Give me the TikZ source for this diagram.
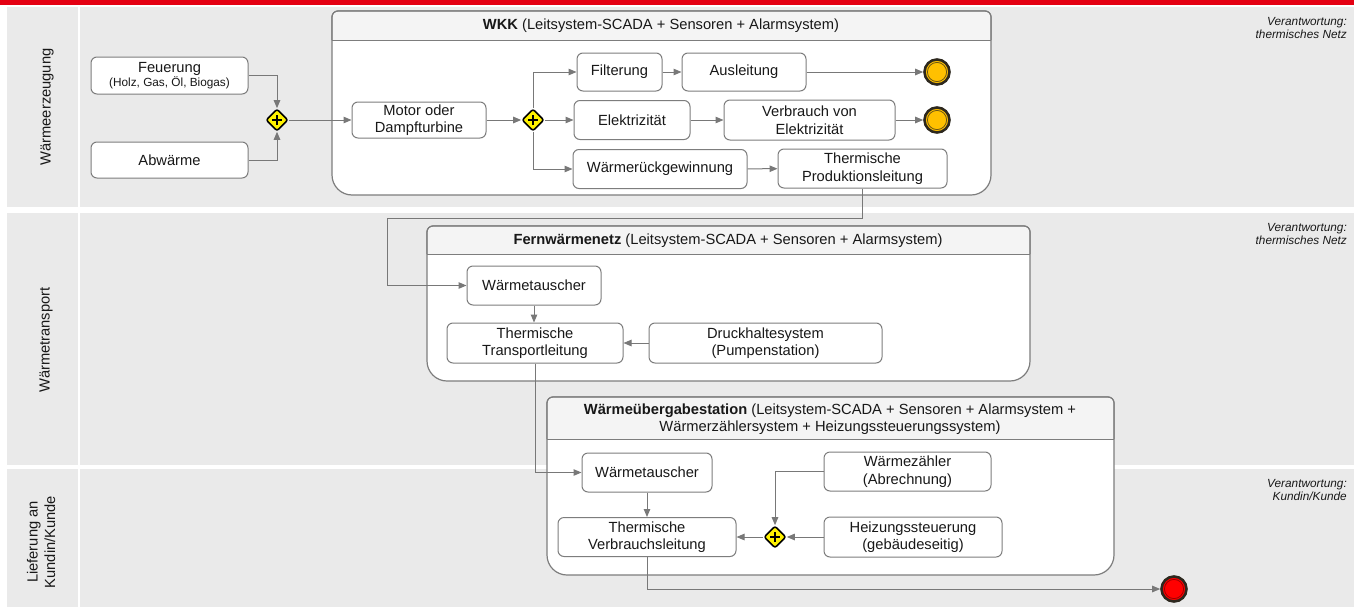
\documentclass[tikz,border=0pt]{standalone}
\usepackage{fontspec}
\setmainfont{Liberation Sans}
\usetikzlibrary{shapes.geometric,arrows.meta}

\definecolor{lanegray}{RGB}{234,234,234}
\definecolor{barred}{RGB}{228,0,18}
\definecolor{boxline}{RGB}{125,125,125}
\definecolor{flowgray}{RGB}{120,120,120}
\definecolor{headgray}{RGB}{244,244,244}
\definecolor{txt}{RGB}{24,24,24}
\definecolor{amber}{RGB}{255,192,0}
\definecolor{ringdark}{RGB}{45,40,30}

\newcommand{\mainsize}{\fontsize{14.7}{17.5}\selectfont}
\newcommand{\smallsize}{\fontsize{11.8}{13}\selectfont}

\tikzset{
  task/.style={draw=boxline, line width=1pt, fill=white, rounded corners=6pt,
    align=center, text=txt, font=\mainsize, inner sep=0pt},
  gate/.style={diamond, aspect=1, minimum size=22pt, inner sep=0pt,
    rounded corners=2pt, fill=yellow, draw=black, line width=1.6pt,
    path picture={\draw[line width=1.7pt, black, sharp corners]
      ([xshift=-5pt]path picture bounding box.center) -- ([xshift=5pt]path picture bounding box.center)
      ([yshift=-5pt]path picture bounding box.center) -- ([yshift=5pt]path picture bounding box.center);}},
  endev/.style={circle, minimum size=25pt, inner sep=0pt, draw=ringdark, line width=2.6pt},
  flow/.style={draw=flowgray, line width=1pt, -{Triangle[length=8pt,width=6.5pt]}, fill=none},
  lane/.style={fill=lanegray},
  container/.style={draw=boxline, line width=1.2pt, fill=white},
  headtext/.style={text=txt, font=\mainsize, align=center, inner sep=0pt},
  lanelabel/.style={text=txt, font=\mainsize, align=center, rotate=90, inner sep=0pt},
  resp/.style={text=txt, font=\smallsize\itshape, align=right, inner sep=0pt, anchor=north east}
}

\begin{document}
\begin{tikzpicture}[x=1pt, y=-1pt]
\useasboundingbox (0,0) rectangle (1354,608);
\fill[white] (0,0) rectangle (1354,608);

% top bar
\fill[barred] (0,0) rectangle (1354,4.5);

% lanes with label column
\fill[lane] (7,7) rectangle (1354,207);
\fill[lane] (7,213) rectangle (1354,465);
\fill[lane] (7,469) rectangle (1354,607);
\fill[white] (78,7) rectangle (80,607);

\node[lanelabel] (l1) at (47,107) {Wärmeerzeugung};
\node[lanelabel] (l2) at (46,340) {Wärmetransport};
\node[lanelabel] (l3) at (41,542) {Lieferung an\\Kundin/Kunde};

\node[resp] (r1) at (1347,17) {Verantwortung:\\thermisches Netz};
\node[resp] (r2) at (1347,223) {Verantwortung:\\thermisches Netz};
\node[resp] (r3) at (1347,479) {Verantwortung:\\Kundin/Kunde};

% sub-process containers
% WKK
\path[container] (332,40) [rounded corners=6pt] -- (332,11) -- (991,11) -- (991,40)
  [rounded corners=20pt] -- (991,195) -- (332,195) -- cycle;
\fill[headgray] (332.6,40) [rounded corners=5.5pt] -- (332.6,11.6) -- (990.4,11.6) [sharp corners] -- (990.4,40) -- cycle;
\draw[boxline, line width=1pt] (332,40) -- (991,40);
\path[draw=boxline, line width=1.2pt] (332,40) [rounded corners=6pt] -- (332,11) -- (991,11) -- (991,40);
\node[headtext] (hwkk) at (661,26) {\textbf{WKK} (Leitsystem-SCADA + Sensoren + Alarmsystem)};

% Fernwaermenetz
\path[container] (427,254) [rounded corners=6pt] -- (427,226) -- (1030,226) -- (1030,254)
  [rounded corners=20pt] -- (1030,381) -- (427,381) -- cycle;
\fill[headgray] (427.6,254) [rounded corners=5.5pt] -- (427.6,226.6) -- (1029.4,226.6) [sharp corners] -- (1029.4,254) -- cycle;
\draw[boxline, line width=1pt] (427,254) -- (1030,254);
\path[draw=boxline, line width=1.2pt] (427,254) [rounded corners=6pt] -- (427,226) -- (1030,226) -- (1030,254);
\node[headtext] (hfern) at (728,241) {\textbf{Fernwärmenetz} (Leitsystem-SCADA + Sensoren + Alarmsystem)};

% Waermeuebergabestation
\path[container] (547,439) [rounded corners=6pt] -- (547,397) -- (1114,397) -- (1114,439)
  [rounded corners=20pt] -- (1114,575) -- (547,575) -- cycle;
\fill[headgray] (547.6,439) [rounded corners=5.5pt] -- (547.6,397.6) -- (1113.4,397.6) [sharp corners] -- (1113.4,439) -- cycle;
\draw[boxline, line width=1pt] (547,439) -- (1114,439);
\path[draw=boxline, line width=1.2pt] (547,439) [rounded corners=6pt] -- (547,397) -- (1114,397) -- (1114,439);
\node[headtext] (hwue) at (830,419) {\textbf{Wärmeübergabestation} (Leitsystem-SCADA + Sensoren + Alarmsystem +\\Wärmerzählersystem + Heizungssteuerungssystem)};

% lane 1 tasks
\node[task, minimum width=157pt, minimum height=37pt] (feuer) at (169.5,75.5)
  {Feuerung\\[-3pt]{\smallsize (Holz, Gas, Öl, Biogas)}};
\node[task, minimum width=157pt, minimum height=36pt] (abw) at (169.5,160) {Abwärme};
\node[gate] (g1) at (277,120) {};
\node[task, minimum width=134pt, minimum height=36pt] (motor) at (419,120) {Motor oder\\Dampfturbine};
\node[gate] (g2) at (533,120) {};
\node[task, minimum width=85pt, minimum height=38pt] (filt) at (619.5,72) {Filterung};
\node[task, minimum width=124pt, minimum height=38pt] (ausl) at (744,72) {Ausleitung};
\node[task, minimum width=116pt, minimum height=39pt] (elek) at (632,120) {Elektrizität};
\node[task, minimum width=171pt, minimum height=40pt] (verb) at (809.5,120) {Verbrauch von\\Elektrizität};
\node[task, minimum width=174pt, minimum height=39pt] (wrg) at (660,169) {Wärmerückgewinnung};
\node[task, minimum width=169pt, minimum height=39pt] (tpl) at (862.5,168.5) {Thermische\\Produktionsleitung};
\node[endev, fill=amber] (e1) at (937,72) {};
\node[endev, fill=amber] (e2) at (937,120) {};
\draw[ringdark!70!amber, line width=0.8pt] (e1.center) circle (9.6pt) (e2.center) circle (9.6pt);

% lane 2 tasks
\node[task, minimum width=134pt, minimum height=39pt] (wt2) at (534,285.5) {Wärmetauscher};
\node[task, minimum width=176pt, minimum height=40pt] (ttl) at (535,343) {Thermische\\Transportleitung};
\node[task, minimum width=233pt, minimum height=40pt] (druck) at (765.5,343) {Druckhaltesystem\\(Pumpenstation)};
\coordinate (bend) at (387,218);

% lane 3 tasks
\node[task, minimum width=130pt, minimum height=39pt] (wt3) at (647,472.5) {Wärmetauscher};
\node[task, minimum width=178pt, minimum height=39pt] (tvl) at (647,537) {Thermische\\Verbrauchsleitung};
\node[task, minimum width=167pt, minimum height=39pt] (wz) at (907.5,471.5) {Wärmezähler\\(Abrechnung)};
\node[task, minimum width=178pt, minimum height=40pt] (hz) at (913,537) {Heizungssteuerung\\(gebäudeseitig)};
\node[gate] (g3) at (775,537) {};
\node[endev, fill=red] (e3) at (1174,589) {};
\draw[red!60!black, line width=0.8pt] (e3.center) circle (9.6pt);

% sequence flows
\draw[flow] (feuer.east) -| (g1.north);
\draw[flow] (abw.east) -| (g1.south);
\draw[flow] (g1) -- (motor);
\draw[flow] (motor) -- (g2);
\draw[flow] (g2.north) |- (filt.west);
\draw[flow] (g2) -- (elek);
\draw[flow] (g2.south) |- (wrg.west);
\draw[flow] (filt) -- (ausl);
\draw[flow] (ausl) -- (e1);
\draw[flow] (elek) -- (verb);
\draw[flow] (verb) -- (e2);
\draw[flow] (wrg) -- (tpl);
\draw[flow] (tpl.south) |- (bend) |- (wt2.west);
\draw[flow] (wt2.south) -- (wt2.south |- ttl.north);
\draw[flow] (druck) -- (ttl);
\draw[flow] (ttl.south) |- (wt3.west);
\draw[flow] (wt3) -- (tvl);
\draw[flow] (wz.west) -| (g3.north);
\draw[flow] (hz) -- (g3);
\draw[flow] (g3) -- (tvl);
\draw[flow] (tvl.south) |- (e3.west);
\end{tikzpicture}
\end{document}
